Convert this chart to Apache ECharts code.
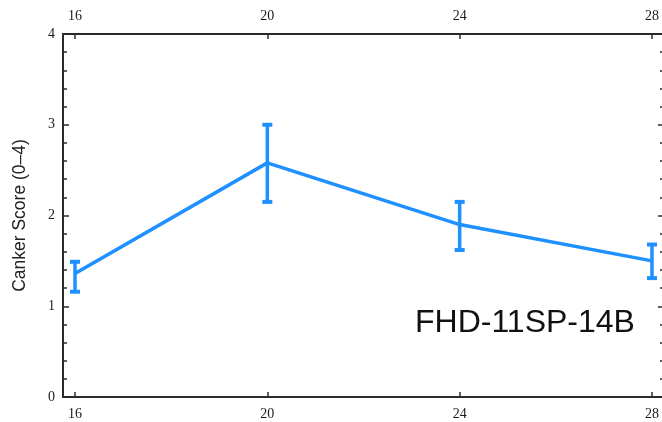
<!DOCTYPE html>
<html>
<head>
<meta charset="utf-8">
<script src="https://cdn.jsdelivr.net/npm/echarts@6/dist/echarts.min.js"></script>
<style>
html,body{margin:0;padding:0;background:#fff;}
#chart{width:662px;height:422px;}
</style>
</head>
<body>
<div id="chart"></div>
<script>
// Data
const temps = [16, 20, 24, 28];
const meanScore = [1.36, 2.58, 1.90, 1.50];
const lowerScore = [1.16, 2.15, 1.62, 1.31];
const upperScore = [1.49, 3.00, 2.15, 1.68];
const xTickValues = [16, 20, 24, 28];
const yTickValues = [0, 1, 2, 3, 4];
const yAxisTitle = 'Canker Score (0\u20134)';
const annotation = 'FHD-11SP-14B';

const lineColor = '#1e90ff';
const axisColor = '#2b2b2b';
const labelFont = 'Liberation Serif';

const chart = echarts.init(document.getElementById('chart'), null, {renderer: 'canvas'});

const lineData = temps.map((t, i) => [t, meanScore[i]]);
const errData = temps.map((t, i) => [t, lowerScore[i], upperScore[i]]);

function xAxisCfg(pos, margin) {
  return {
    type: 'value',
    position: pos,
    min: 15.75,
    max: 28.25,
    axisLine: {show: true, onZero: false, lineStyle: {color: axisColor, width: 2}},
    axisTick: {show: true, inside: true, length: 5, lineStyle: {color: axisColor, width: 1.5}, customValues: xTickValues},
    axisLabel: {show: true, customValues: xTickValues, margin: margin, color: '#1a1a1a', fontFamily: labelFont, fontSize: 14},
    splitLine: {show: false},
    minorTick: {show: false}
  };
}

function yAxisCfg(pos, showLabel) {
  return {
    type: 'value',
    position: pos,
    min: 0,
    max: 4,
    interval: 1,
    name: showLabel ? yAxisTitle : '',
    nameLocation: 'middle',
    nameGap: 34,
    nameRotate: 90,
    nameTextStyle: {color: '#222', fontFamily: 'Liberation Sans', fontSize: 17.5},
    axisLine: {show: true, onZero: false, lineStyle: {color: axisColor, width: 2}},
    axisTick: {show: true, inside: true, length: 6, lineStyle: {color: axisColor, width: 1.5}},
    minorTick: {show: true, splitNumber: 5, length: 4, lineStyle: {color: axisColor, width: 1.5}},
    axisLabel: {show: showLabel, margin: 8, color: '#1a1a1a', fontFamily: labelFont, fontSize: 14},
    splitLine: {show: false},
    minorSplitLine: {show: false}
  };
}

const option = {
  backgroundColor: '#ffffff',
  animation: false,
  grid: {left: 63, top: 34, width: 601, height: 363, containLabel: false, outerBoundsMode: 'none'},
  xAxis: [xAxisCfg('bottom', 10), xAxisCfg('top', 11)],
  yAxis: [yAxisCfg('left', true), yAxisCfg('right', false)],
  graphic: [{
    type: 'text',
    left: 415,
    top: 307,
    style: {text: annotation, fill: '#111', font: '32px "Liberation Sans"'}
  }],
  series: [
    {
      type: 'line',
      xAxisIndex: 0,
      yAxisIndex: 0,
      data: lineData,
      showSymbol: false,
      lineStyle: {color: lineColor, width: 3.5},
      itemStyle: {color: lineColor},
      z: 3
    },
    {
      type: 'custom',
      xAxisIndex: 0,
      yAxisIndex: 0,
      data: errData,
      z: 4,
      renderItem: function (params, api) {
        const x = api.value(0);
        const lo = api.coord([x, api.value(1)]);
        const hi = api.coord([x, api.value(2)]);
        const half = 5;
        const st = {stroke: lineColor, lineWidth: 3.5};
        return {
          type: 'group',
          children: [
            {type: 'line', shape: {x1: lo[0], y1: lo[1], x2: hi[0], y2: hi[1]}, style: st},
            {type: 'line', shape: {x1: hi[0] - half, y1: hi[1], x2: hi[0] + half, y2: hi[1]}, style: {stroke: lineColor, lineWidth: 4}},
            {type: 'line', shape: {x1: lo[0] - half, y1: lo[1], x2: lo[0] + half, y2: lo[1]}, style: {stroke: lineColor, lineWidth: 4}}
          ]
        };
      }
    }
  ]
};

chart.setOption(option);
</script>
</body>
</html>
